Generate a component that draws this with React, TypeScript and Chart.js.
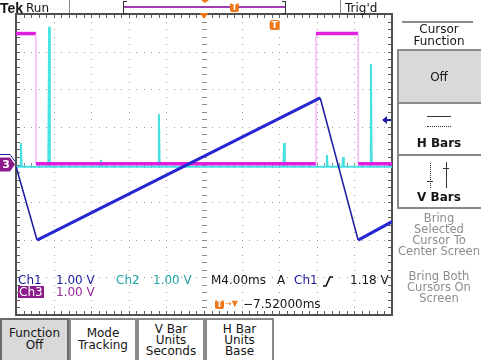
import React, { useEffect, useRef } from "react";
import { Chart, registerables } from "chart.js";

Chart.register(...registerables);

// ---------- data (screen divisions: x 0..10, y -4..4) ----------
const ch1X = [0, 0.56, 8.09, 9.1, 10];
const ch1Y = [-0.05, -2.01, 1.77, -2.01, -1.52];

const ch3X = [0, 0.53, 0.53, 7.98, 7.98, 9.1, 9.1, 10];
const ch3Y = [3.48, 3.48, 0.02, 0.02, 3.48, 3.48, 0.02, 0.02];

const ch2Base = -0.06;
const ch2SpikeX = [0.13, 0.88, 2.26, 3.8, 7.13, 8.27, 8.7, 9.44];
const ch2SpikeY = [0.57, 3.66, 0.12, 1.34, 0.57, 0.25, 0.2, 2.67];

const timePerDivMs = 4.0;
const triggerOffsetMs = -7.52;
const triggerLevelV = 1.18;
const ch1VoltsPerDiv = 1.0;
const ch1GroundDiv = 0.08;
const ch3GroundDiv = 0;
const expansionDiv = 5;

const readoutCh1 = ["Ch1", "1.00 V"];
const readoutCh2 = ["Ch2", "1.00 V"];
const readoutCh3 = ["Ch3", "1.00 V"];
const readoutTime = ["M4.00ms", "A", "Ch1", "1.18 V"];
const readoutDelay = "\u22127.52000ms";
const sideTitle = ["Cursor", "Function"];
const sideButtons = ["Off", "H Bars", "V Bars"];
const sideText1 = ["Bring", "Selected", "Cursor To", "Center Screen"];
const sideText2 = ["Bring Both", "Cursors On", "Screen"];
const bottomButtons = [["Function", "Off"], ["Mode", "Tracking"], ["V Bar", "Units", "Seconds"], ["H Bar", "Units", "Base"]];

const ORANGE = "#f07818";
const BLUE = "#2626d2";
const DARKBLUE = "#1c1ca0";
const CYAN = "#46e2e2";
const MAGENTA = "#e01ee0";
const PURPLE = "#8c1c8c";
const FONT = '"DejaVu Sans", "Liberation Sans", sans-serif';

const ch2Points = (() => {
  const pts: { x: number; y: number }[] = [{ x: 0, y: ch2Base }];
  ch2SpikeX.forEach((sx, i) => {
    pts.push({ x: sx - 0.02, y: ch2Base });
    pts.push({ x: sx, y: ch2SpikeY[i] });
    pts.push({ x: sx + 0.02, y: ch2Base });
  });
  pts.push({ x: 10, y: ch2Base });
  return pts;
})();

const graticule = {
  id: "graticule",
  beforeDatasetsDraw(chart: any) {
    const { ctx, chartArea: a, scales } = chart;
    const x = scales.x, y = scales.y;
    ctx.save();
    ctx.fillStyle = "#9a9a9a";
    for (let i = 1; i < 10; i++) {
      const px = Math.round(x.getPixelForValue(i));
      for (let j = 0; j <= 40; j++) {
        const py = Math.round(y.getPixelForValue(-4 + j * 0.2));
        ctx.fillRect(px, py, 1, 1);
      }
    }
    for (let k = 1; k < 8; k++) {
      const py = Math.round(y.getPixelForValue(-4 + k));
      for (let j = 0; j <= 50; j++) {
        const px = Math.round(x.getPixelForValue(j * 0.2));
        ctx.fillRect(px, py, 1, 1);
      }
    }
    const cx = Math.round(x.getPixelForValue(5));
    const cy = Math.round(y.getPixelForValue(0));
    ctx.fillStyle = "#8a8a8a";
    for (let j = 0; j <= 40; j++) {
      const py = Math.round(y.getPixelForValue(-4 + j * 0.2));
      ctx.fillRect(cx - 2, py, 5, 1);
    }
    for (let j = 0; j <= 50; j++) {
      const px = Math.round(x.getPixelForValue(j * 0.2));
      ctx.fillRect(px, cy - 2, 1, 5);
    }
    ctx.fillStyle = "#606060";
    for (let j = 0; j <= 50; j++) {
      const px = Math.round(x.getPixelForValue(j * 0.2));
      ctx.fillRect(px, a.top, 1, 4);
      ctx.fillRect(px, a.bottom - 4, 1, 4);
    }
    for (let j = 0; j <= 40; j++) {
      const py = Math.round(y.getPixelForValue(-4 + j * 0.2));
      ctx.fillRect(a.left, py, 4, 1);
      ctx.fillRect(a.right - 4, py, 4, 1);
    }
    ctx.strokeStyle = "#505050";
    ctx.lineWidth = 2;
    ctx.strokeRect(a.left, a.top, a.right - a.left, a.bottom - a.top);
    ctx.restore();
  },
};

function roundRect(ctx: CanvasRenderingContext2D, x: number, y: number, w: number, h: number, r: number) {
  ctx.beginPath();
  ctx.moveTo(x + r, y);
  ctx.lineTo(x + w - r, y);
  ctx.quadraticCurveTo(x + w, y, x + w, y + r);
  ctx.lineTo(x + w, y + h - r);
  ctx.quadraticCurveTo(x + w, y + h, x + w - r, y + h);
  ctx.lineTo(x + r, y + h);
  ctx.quadraticCurveTo(x, y + h, x, y + h - r);
  ctx.lineTo(x, y + r);
  ctx.quadraticCurveTo(x, y, x + r, y);
  ctx.closePath();
}

const markers = {
  id: "markers",
  afterDatasetsDraw(chart: any) {
    const { ctx, chartArea: a, scales } = chart;
    const x = scales.x, y = scales.y;
    ctx.save();
    // expansion point
    const ex = x.getPixelForValue(expansionDiv);
    ctx.fillStyle = ORANGE;
    ctx.beginPath();
    ctx.moveTo(ex - 4.5, a.top - 1);
    ctx.lineTo(ex + 4.5, a.top - 1);
    ctx.lineTo(ex, a.top + 5);
    ctx.closePath();
    ctx.fill();
    // trigger point T
    const tx = x.getPixelForValue(expansionDiv - triggerOffsetMs / timePerDivMs);
    roundRect(ctx, tx - 5, a.top + 6, 10, 10, 2.5);
    ctx.fill();
    ctx.fillStyle = "#fff";
    ctx.font = `bold 9px ${FONT}`;
    ctx.textAlign = "center";
    ctx.textBaseline = "middle";
    ctx.fillText("T", tx, a.top + 11.5);
    // trigger level arrow
    const ty = y.getPixelForValue(triggerLevelV / ch1VoltsPerDiv);
    ctx.fillStyle = DARKBLUE;
    ctx.beginPath();
    ctx.moveTo(a.right - 10, ty);
    ctx.lineTo(a.right - 5, ty - 4);
    ctx.lineTo(a.right - 5, ty + 4);
    ctx.closePath();
    ctx.fill();
    ctx.fillRect(a.right - 6, ty - 1, 5, 2);
    // ch1 ground marker (behind)
    const g1 = y.getPixelForValue(ch1GroundDiv);
    ctx.strokeStyle = DARKBLUE;
    ctx.lineWidth = 1;
    ctx.beginPath();
    ctx.moveTo(0, g1 - 7);
    ctx.lineTo(10, g1 - 7);
    ctx.lineTo(15, g1);
    ctx.stroke();
    // ch3 ground marker
    const g3 = y.getPixelForValue(ch3GroundDiv);
    ctx.fillStyle = PURPLE;
    ctx.beginPath();
    ctx.moveTo(0, g3 - 7);
    ctx.lineTo(10, g3 - 7);
    ctx.lineTo(15, g3);
    ctx.lineTo(10, g3 + 7);
    ctx.lineTo(0, g3 + 7);
    ctx.closePath();
    ctx.fill();
    ctx.fillStyle = "#fff";
    ctx.font = `bold 11px ${FONT}`;
    ctx.fillText("3", 6, g3 + 0.5);
    ctx.restore();
  },
};

const abs = (left: number, top: number, extra: any = {}) => ({
  position: "absolute" as const,
  left,
  top,
  whiteSpace: "nowrap" as const,
  lineHeight: "14px",
  ...extra,
});

function Centered({ left, top, width, lines, lh, style }: any) {
  return (
    <div style={abs(left, top, { width, textAlign: "center", lineHeight: lh + "px", ...style })}>
      {lines.map((l: string, i: number) => (
        <div key={i}>{l}</div>
      ))}
    </div>
  );
}

export default function App() {
  const ref = useRef<HTMLCanvasElement | null>(null);

  useEffect(() => {
    if (!ref.current) return;
    const chart = new Chart(ref.current, {
      type: "line",
      data: {
        datasets: [
          {
            label: "Ch1",
            data: ch1X.map((v, i) => ({ x: v, y: ch1Y[i] })),
            borderColor: BLUE,
            borderWidth: 3,
            pointRadius: 0,
            order: 0,
            segment: {
              borderColor: (c: any) => (c.p1.parsed.y < c.p0.parsed.y ? DARKBLUE : BLUE),
              borderWidth: (c: any) => (c.p1.parsed.y < c.p0.parsed.y ? 1.6 : 3),
            },
          } as any,
          {
            label: "Ch3",
            data: ch3X.map((v, i) => ({ x: v, y: ch3Y[i] })),
            borderColor: MAGENTA,
            borderWidth: 3.5,
            pointRadius: 0,
            order: 1,
            segment: {
              borderColor: (c: any) => (c.p0.parsed.x === c.p1.parsed.x ? "#f2a6f2" : MAGENTA),
              borderWidth: (c: any) => (c.p0.parsed.x === c.p1.parsed.x ? 1.2 : 3.5),
            },
          } as any,
          {
            label: "Ch2",
            data: ch2Points,
            borderColor: CYAN,
            borderWidth: 2,
            pointRadius: 0,
            order: 2,
          },
        ],
      },
      options: {
        animation: false,
        responsive: false,
        devicePixelRatio: 1,
        events: [],
        layout: { padding: { left: 16, top: 14, right: 89, bottom: 45 } },
        elements: { line: { tension: 0 } },
        scales: {
          x: { type: "linear", min: 0, max: 10, display: false },
          y: { type: "linear", min: -4, max: 4, display: false },
        },
        plugins: { legend: { display: false }, tooltip: { enabled: false } },
      },
      plugins: [graticule, markers],
    });
    return () => chart.destroy();
  }, []);

  const gray = "#8a8a8a";

  return (
    <div
      style={{
        position: "fixed",
        left: 0,
        top: 0,
        width: 481,
        height: 360,
        background: "#fff",
        overflow: "hidden",
        fontFamily: FONT,
        fontSize: 12,
        color: "#151515",
      }}
    >
      <canvas ref={ref} width={481} height={360} style={{ position: "absolute", left: 0, top: 0, width: 481, height: 360 }} />

      {/* header */}
      <div style={abs(0, 0, { font: `bold 14px "Liberation Sans", sans-serif`, lineHeight: "15px" })}>Tek</div>
      <div style={abs(26, 0.5)}>Run</div>
      <div style={abs(69, 0, { width: 1, height: 13, background: gray })} />
      <div style={abs(340, 0, { width: 1, height: 13, background: gray })} />
      <div style={abs(345, 0.5)}>Trig'd</div>
      {/* record bar */}
      <div style={abs(123, 1, { width: 3, height: 11, borderLeft: "1px solid #333", borderTop: "1px solid #333", borderBottom: "1px solid #333" })} />
      <div style={abs(282, 1, { width: 3, height: 11, borderRight: "1px solid #333", borderTop: "1px solid #333", borderBottom: "1px solid #333" })} />
      <div style={abs(124, 6, { width: 161, height: 1.5, background: "#a040b0" })} />
      <div style={abs(201, 0, { width: 0, height: 0, borderLeft: "4px solid transparent", borderRight: "4px solid transparent", borderTop: `3px solid ${ORANGE}` })} />
      <div
        style={abs(230, 3, {
          width: 9,
          height: 9,
          background: ORANGE,
          borderRadius: 2,
          color: "#fff",
          font: `bold 8px ${FONT}`,
          lineHeight: "9px",
          textAlign: "center",
        })}
      >
        T
      </div>

      {/* readouts */}
      <div style={abs(18, 273, { color: DARKBLUE })}>{readoutCh1[0]}</div>
      <div style={abs(56, 273, { color: DARKBLUE })}>{readoutCh1[1]}</div>
      <div style={abs(116, 273, { color: "#22a4a4" })}>{readoutCh2[0]}</div>
      <div style={abs(153, 273, { color: "#22a4a4" })}>{readoutCh2[1]}</div>
      <div style={abs(18, 286, { color: "#fff", background: PURPLE, lineHeight: "12px", padding: "0 1px" })}>{readoutCh3[0]}</div>
      <div style={abs(56, 285, { color: "#9a2a9a" })}>{readoutCh3[1]}</div>
      <div style={abs(211, 273)}>{readoutTime[0]}</div>
      <div style={abs(277, 273)}>{readoutTime[1]}</div>
      <div style={abs(294, 273, { color: DARKBLUE })}>{readoutTime[2]}</div>
      <svg style={{ position: "absolute", left: 322, top: 276 }} width={12} height={11}>
        <polyline points="1,10 4,10 8,1 11,1" fill="none" stroke="#111" strokeWidth={1.6} />
      </svg>
      <div style={abs(350, 273)}>{readoutTime[3]}</div>
      <div
        style={abs(215, 300, {
          width: 9,
          height: 9,
          background: ORANGE,
          borderRadius: 2,
          color: "#fff",
          font: `bold 8px ${FONT}`,
          lineHeight: "9px",
          textAlign: "center",
        })}
      >
        T
      </div>
      <div style={abs(225, 299, { color: ORANGE, fontSize: 8, lineHeight: "10px" })}>{"\u2192\u25BC"}</div>
      <div style={abs(243, 297)}>{readoutDelay}</div>

      {/* right panel */}
      <div style={abs(402, 21, { width: 71, height: 2, background: gray })} />
      <Centered left={398} top={22.5} width={82} lines={sideTitle} lh={12} />
      <div style={abs(397, 49, { width: 90, height: 55, boxSizing: "border-box", border: `2px solid ${gray}`, background: "#d9d9d9" })} />
      <div style={abs(397, 102, { width: 90, height: 54, boxSizing: "border-box", border: `2px solid ${gray}` })} />
      <div style={abs(397, 154, { width: 90, height: 55, boxSizing: "border-box", border: `2px solid ${gray}` })} />
      <Centered left={398} top={70} width={82} lines={[sideButtons[0]]} lh={14} />
      <div style={abs(427, 116, { width: 24, height: 0, borderTop: "1.5px solid #333" })} />
      <div style={abs(427, 126, { width: 24, height: 0, borderTop: "1px dotted #333" })} />
      <Centered left={398} top={136} width={82} lines={[sideButtons[1]]} lh={14} style={{ fontWeight: "bold" }} />
      <div style={abs(430, 163, { width: 0, height: 25, borderLeft: "1px dotted #333" })} />
      <div style={abs(427, 181, { width: 6, height: 0, borderTop: "1px solid #333" })} />
      <div style={abs(446, 162, { width: 0, height: 26, borderLeft: "1.5px solid #333" })} />
      <div style={abs(443, 168, { width: 6, height: 0, borderTop: "1px solid #333" })} />
      <Centered left={398} top={189.5} width={82} lines={[sideButtons[2]]} lh={14} style={{ fontWeight: "bold" }} />
      <Centered left={396} top={212.5} width={86} lines={sideText1} lh={11.3} style={{ color: "#8c8c8c", fontSize: 11.5 }} />
      <Centered left={396} top={270.5} width={86} lines={sideText2} lh={11.3} style={{ color: "#8c8c8c", fontSize: 11.5 }} />

      {/* bottom buttons */}
      {bottomButtons.map((lines, i) => {
        const left = [0, 69, 137, 205][i];
        const width = [69, 68, 68, 69][i];
        const three = lines.length === 3;
        return (
          <div
            key={i}
            style={abs(left, 318, {
              width,
              height: 46,
              boxSizing: "border-box",
              border: `2px solid ${i === 0 ? "#6a6a6a" : gray}`,
              background: i === 0 ? "#d9d9d9" : "#fff",
            })}
          >
            <Centered left={-2} top={three ? 3.5 : 7} width={width} lines={lines} lh={three ? 11.3 : 12} />
          </div>
        );
      })}
    </div>
  );
}
